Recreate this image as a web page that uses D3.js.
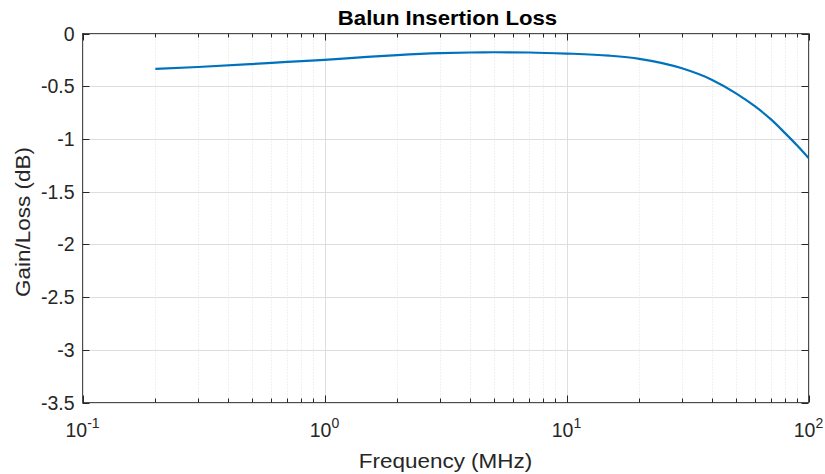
<!DOCTYPE html>
<html><head><meta charset="utf-8">
<script src="https://cdn.jsdelivr.net/npm/d3@7"></script>
<style>body{margin:0;background:#fff}svg{display:block;font-family:"Liberation Sans",Arial,Helvetica,sans-serif}</style>
</head><body><svg id="c" width="825" height="474"></svg>
<script>
const freqMHz = [0.2,0.3,0.5,0.7,1,1.5,2,3,4,5,7,10,15,20,30,40,50,60,70,80,90,100];
const lossDb = [-0.336,-0.318,-0.29,-0.27,-0.25,-0.222,-0.205,-0.187,-0.18,-0.178,-0.18,-0.19,-0.21,-0.24,-0.33,-0.44,-0.565,-0.69,-0.815,-0.945,-1.065,-1.18];
const yTicks = [0,-0.5,-1,-1.5,-2,-2.5,-3,-3.5];
const xDecades = [0.1,1,10,100];
const xExponents = ["-1","0","1","2"];
const titleText = "Balun Insertion Loss";
const xLabel = "Frequency (MHz)";
const yLabel = "Gain/Loss (dB)";

const svg = d3.select("#c");
const L=82.5,R=808.5,T=33.5,B=402.5;
const x = d3.scaleLog().domain([0.1,100]).range([L,R]);
const y = d3.scaleLinear().domain([-3.5,0]).range([B,T]);

const minor=[];
for(let d=0.1; d<100; d*=10){ for(let k=2;k<=9;k++) minor.push(+(d*k).toPrecision(3)); }
const g = svg.append("g");
g.selectAll(".mg").data(minor).join("line")
 .attr("x1",d=>Math.round(x(d))+0.5).attr("x2",d=>Math.round(x(d))+0.5).attr("y1",T).attr("y2",B)
 .attr("stroke","#e3e3e3").attr("stroke-dasharray","1,2").attr("stroke-width",1);
g.selectAll(".xg").data(xDecades).join("line")
 .attr("x1",d=>Math.round(x(d))+0.5).attr("x2",d=>Math.round(x(d))+0.5).attr("y1",T).attr("y2",B)
 .attr("stroke","#dedede").attr("stroke-width",1);
g.selectAll(".yg").data(yTicks).join("line")
 .attr("y1",d=>Math.round(y(d))+0.5).attr("y2",d=>Math.round(y(d))+0.5).attr("x1",L).attr("x2",R)
 .attr("stroke","#dedede").attr("stroke-width",1);

svg.append("path").datum(freqMHz.map((f,i)=>[f,lossDb[i]]))
 .attr("fill","none").attr("stroke","#0072BD").attr("stroke-width",2.2)
 .attr("d",d3.line().x(d=>x(d[0])).y(d=>y(d[1])).curve(d3.curveMonotoneX));

const ax = svg.append("g");
ax.append("rect").attr("x",L).attr("y",T).attr("width",R-L).attr("height",B-T).attr("fill","none").attr("stroke","#4d4d4d").attr("stroke-width",1);
const tickMaj=7, tickMin=4;
xDecades.concat(minor).forEach(d=>{
  const len = xDecades.includes(d)?tickMaj:tickMin;
  const xx=Math.round(x(d))+0.5;
  ax.append("line").attr("x1",xx).attr("x2",xx).attr("y1",B).attr("y2",B-len).attr("stroke","#262626");
  ax.append("line").attr("x1",xx).attr("x2",xx).attr("y1",T).attr("y2",T+len).attr("stroke","#262626");
});
yTicks.forEach(d=>{
  const yy=Math.round(y(d))+0.5;
  ax.append("line").attr("y1",yy).attr("y2",yy).attr("x1",L).attr("x2",L+tickMaj).attr("stroke","#262626");
  ax.append("line").attr("y1",yy).attr("y2",yy).attr("x1",R).attr("x2",R-tickMaj).attr("stroke","#262626");
});

svg.selectAll(".yl").data(yTicks).join("text")
 .attr("x",L-8).attr("y",d=>y(d)+7).attr("text-anchor","end")
 .attr("font-size",19.5).attr("fill","#262626").text(d=>String(d));
xDecades.forEach((d,i)=>{
  const t=svg.append("text").attr("x",x(d)).attr("y",437).attr("text-anchor","middle").attr("font-size",19.5).attr("fill","#262626");
  t.append("tspan").text("10");
  t.append("tspan").attr("dy",-9).attr("font-size",14).text(xExponents[i]);
});
svg.append("text").attr("transform",`translate(${(L+R)/2},468) scale(1.07,1)`).attr("text-anchor","middle").attr("font-size",21).attr("fill","#262626").text(xLabel);
svg.append("text").attr("transform",`translate(30,${(T+B)/2 + 4}) rotate(-90) scale(1.07,1)`).attr("text-anchor","middle").attr("font-size",21).attr("fill","#262626").text(yLabel);
svg.append("text").attr("transform",`translate(${(L+R)/2 + 2},25) scale(1.11,1)`).attr("text-anchor","middle").attr("font-size",20).attr("font-weight","bold").attr("fill","#000").text(titleText);
</script></body></html>
